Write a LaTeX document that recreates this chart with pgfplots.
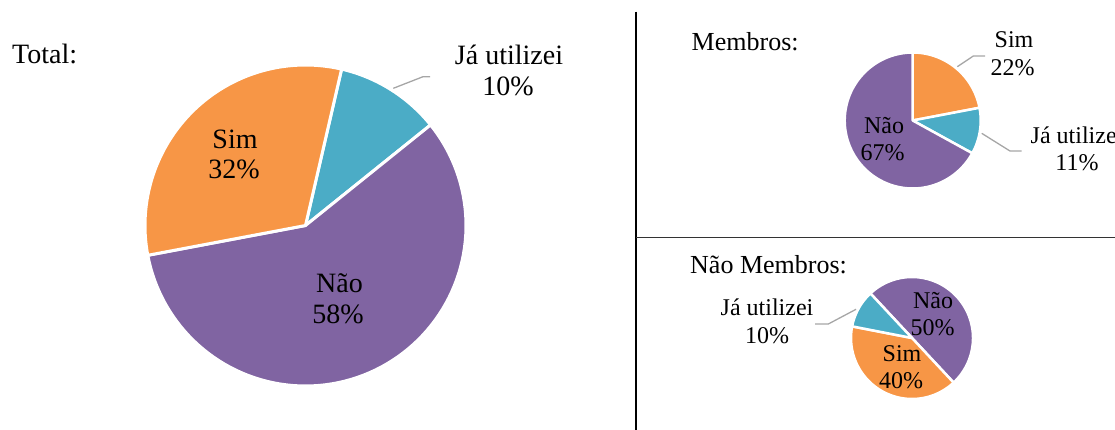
\documentclass[border=0pt]{standalone}
\usepackage{pgfplots}
\pgfplotsset{compat=1.18}
\usepackage{fontspec}
\setmainfont{Liberation Serif}
\definecolor{cSim}{HTML}{F79646}
\definecolor{cJa}{HTML}{4BACC6}
\definecolor{cNao}{HTML}{8064A2}
\definecolor{cLead}{HTML}{A6A6A6}
% cx, cy (px), r, angle from, angle to (clockwise from top), colour, border
\newcommand{\pieslice}[7]{%
  \addplot[fill=#6, draw=white, line width=#7, line join=round, domain=#4:#5, samples=90, variable=\t]
    ({#1+#3*sin(\t)},{#2-#3*cos(\t)}) -- (axis cs:#1,#2) -- cycle;}
\newcommand{\bigf}{\fontsize{28bp}{31bp}\selectfont}
\newcommand{\midf}{\fontsize{26bp}{29bp}\selectfont}
\newcommand{\smallf}{\fontsize{24bp}{27bp}\selectfont}
\begin{document}
\begin{tikzpicture}
\useasboundingbox (0,0) rectangle (1115bp,430bp);
\clip (0,0) rectangle (1115bp,430bp);
\begin{axis}[
  width=1115bp, height=430bp, scale only axis,
  xmin=0, xmax=1115, ymin=0, ymax=430, y dir=reverse,
  hide axis, clip=false]
% ---- Total: Ja utilizei 10.6, Nao 57.8, Sim 31.6 (start 13 deg)
\pieslice{305.5}{225.5}{160.5}{13}{51.2}{cJa}{3bp}
\pieslice{305.5}{225.5}{160.5}{51.2}{259.3}{cNao}{3bp}
\pieslice{305.5}{225.5}{160.5}{259.3}{373}{cSim}{3bp}
% ---- Membros: Sim 22, Ja utilizei 11, Nao 67 (start 0 deg)
\pieslice{912.7}{120.5}{68}{0}{79.2}{cSim}{2.5bp}
\pieslice{912.7}{120.5}{68}{79.2}{118.8}{cJa}{2.5bp}
\pieslice{912.7}{120.5}{68}{118.8}{360}{cNao}{2.5bp}
% ---- Nao Membros: Nao 50, Sim 40, Ja utilizei 10 (start -43 deg)
\pieslice{912}{338}{61}{-43}{137}{cNao}{2.5bp}
\pieslice{912}{338}{61}{137}{281}{cSim}{2.5bp}
\pieslice{912}{338}{61}{281}{317}{cJa}{2.5bp}
% ---- separators
\addplot[black, line width=1.3bp] coordinates {(636,11.7) (636,430)};
\addplot[black!80, line width=1bp] coordinates {(636,237.3) (1115,237.3)};
% ---- leader lines
\addplot[cLead, line width=1.3bp] coordinates {(393.3,88.3) (423,76.7) (430,76.7)};
\addplot[cLead, line width=1.3bp] coordinates {(957.3,66.7) (973.3,56) (985,56)};
\addplot[cLead, line width=1.3bp] coordinates {(981.7,133.3) (1010,151) (1021.7,151)};
\addplot[cLead, line width=1.3bp] coordinates {(815,324) (828.3,324) (856,309.3)};
% ---- texts
\node[anchor=base west, inner sep=0pt, font=\bigf] at (axis cs:12,63) {Total:};
\node[anchor=base, inner sep=0pt, font=\bigf] at (axis cs:235,148) {Sim};
\node[anchor=base, inner sep=0pt, font=\bigf] at (axis cs:234,178.5) {32\%};
\node[anchor=base, inner sep=0pt, font=\bigf] at (axis cs:339.5,292) {Não};
\node[anchor=base, inner sep=0pt, font=\bigf] at (axis cs:338,323) {58\%};
\node[anchor=base, inner sep=0pt, font=\bigf] at (axis cs:509,64.3) {Já utilizei};
\node[anchor=base, inner sep=0pt, font=\bigf] at (axis cs:508,95) {10\%};
\node[anchor=base west, inner sep=0pt, font=\midf] at (axis cs:691.5,50.7) {Membros:};
\node[anchor=base, inner sep=0pt, font=\smallf] at (axis cs:1014,47.3) {Sim};
\node[anchor=base, inner sep=0pt, font=\smallf] at (axis cs:1012.5,75) {22\%};
\node[anchor=base, inner sep=0pt, font=\smallf] at (axis cs:1077,143.3) {Já utilizei};
\node[anchor=base, inner sep=0pt, font=\smallf] at (axis cs:1077,170.7) {11\%};
\node[anchor=base, inner sep=0pt, font=\smallf] at (axis cs:884,133.3) {Não};
\node[anchor=base, inner sep=0pt, font=\smallf] at (axis cs:882.5,160) {67\%};
\node[anchor=base west, inner sep=0pt, font=\midf] at (axis cs:690,273.3) {Não Membros:};
\node[anchor=base, inner sep=0pt, font=\smallf] at (axis cs:767,315) {Já utilizei};
\node[anchor=base, inner sep=0pt, font=\smallf] at (axis cs:767,343.3) {10\%};
\node[anchor=base, inner sep=0pt, font=\smallf] at (axis cs:933,308.3) {Não};
\node[anchor=base, inner sep=0pt, font=\smallf] at (axis cs:932.5,335) {50\%};
\node[anchor=base, inner sep=0pt, font=\smallf] at (axis cs:902,361.7) {Sim};
\node[anchor=base, inner sep=0pt, font=\smallf] at (axis cs:901,388.3) {40\%};
\end{axis}
\end{tikzpicture}
\end{document}
